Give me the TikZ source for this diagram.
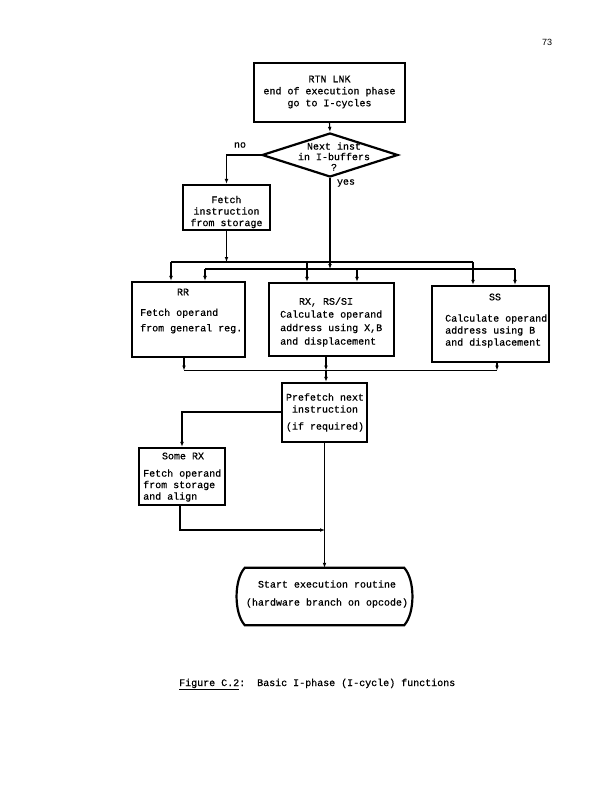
\documentclass[tikz,border=0pt]{standalone}
\usepackage{fontspec}
\setmonofont{Liberation Mono}[FakeBold=0.6]
\newfontfamily\pagenumfont{Liberation Sans}
\usetikzlibrary{arrows.meta,shapes.geometric}
\newcommand\tx[1]{\ttfamily\fontsize{10bp}{#1bp}\selectfont}
\tikzset{
  boxed/.style={draw, line width=2.2bp, inner sep=0pt},
  conn/.style={line width=1.1bp},
  arr/.style={line width=1.1bp, -{Latex[length=5bp,width=3.8bp]}},
  txt/.style={inner sep=0pt, align=center, font=\tx{12}},
}
\begin{document}
\begin{tikzpicture}[x=1bp,y=-1bp]
\useasboundingbox (0,0) rectangle (612,791);

% page number
\node[inner sep=0pt, font=\pagenumfont\fontsize{9bp}{10bp}\selectfont] (pnum) at (547,42) {73};

% top box
\node[boxed, minimum width=151bp, minimum height=59bp] (top) at (329.5,92.5) {};
\node[txt, font=\tx{12}] (toptxt) at (329.5,92) {RTN LNK\\end of execution phase\\go to I-cycles};

% decision
\node[boxed, shape=diamond, minimum width=136bp, minimum height=44bp] (dia) at (330,155) {};
\node[txt, font=\tx{10.5}] (diatxt) at (334,156.5) {Next inst\\in I-buffers\\?};
\node[txt] (no) at (240,145) {no};
\node[txt] (yes) at (346,183) {yes};

% fetch instruction
\node[boxed, minimum width=87bp, minimum height=45bp] (fetch) at (226.5,207.5) {};
\node[txt, font=\tx{11.5}] (fetchtxt) at (226.5,212) {Fetch\\instruction\\from storage};

% three operand boxes
\node[boxed, minimum width=113bp, minimum height=75bp] (rr) at (188.5,319.5) {};
\node[txt] (rrt) at (183,292) {RR};
\node[txt, align=left, anchor=west, font=\tx{15.5}] (rrb) at (140,321) {Fetch operand\\from general reg.};

\node[boxed, minimum width=125bp, minimum height=73bp] (rx) at (331.5,319.5) {};
\node[txt] (rxt) at (326,302) {RX, RS/SI};
\node[txt, align=left, anchor=west, font=\tx{13.5}] (rxb) at (280,328.5) {Calculate operand\\address using X,B\\and displacement};

\node[boxed, minimum width=117bp, minimum height=76bp] (ss) at (490.5,324) {};
\node[txt] (sst) at (495,297) {SS};
\node[txt, align=left, anchor=west, font=\tx{12}] (ssb) at (445,331) {Calculate operand\\address using B\\and displacement};

% prefetch
\node[boxed, minimum width=85bp, minimum height=59bp] (pf) at (324.5,412.5) {};
\node[txt, font=\tx{12}] (pf1) at (325,403) {Prefetch next\\instruction};
\node[txt] (pf2) at (325,427) {(if required)};

% some RX
\node[boxed, minimum width=86bp, minimum height=57bp] (srx) at (182,476.5) {};
\node[txt] (srxt) at (183,456) {Some RX};
\node[txt, align=left, anchor=west, font=\tx{11.5}] (srxb) at (143,485.5) {Fetch operand\\from storage\\and align};

% start execution (terminal)
\node[inner sep=0pt, minimum width=175bp, minimum height=57bp] (st) at (324.5,596.5) {};
\draw[line width=2.2bp] ([xshift=8bp]st.north west) -- ([xshift=-8bp]st.north east)
  .. controls ([xshift=3bp,yshift=-12bp]st.north east) and ([xshift=3bp,yshift=12bp]st.south east) .. ([xshift=-8bp]st.south east)
  -- ([xshift=8bp]st.south west)
  .. controls ([xshift=-3bp,yshift=12bp]st.south west) and ([xshift=-3bp,yshift=-12bp]st.north west) .. cycle;
\node[txt, font=\tx{18}] (sttxt) at (327,594) {Start execution routine\\(hardware branch on opcode)};

% caption
\node[inner sep=0pt, anchor=base west, font=\tx{12}] (cap) at (179,686) {\underline{Figure C.2}:~~Basic I-phase (I-cycle) functions};

% ---- connectors ----
\draw[arr] (top.south) -- (dia.north);
\draw[arr] (dia.west) -| (fetch.north);

% bus 1 (from fetch)
\coordinate (b1L) at (171,262);
\coordinate (b1M) at (307,262);
\coordinate (b1F) at (226.5,262);
\coordinate (b1R) at (473,262);
\draw[arr] (fetch.south) -- (b1F);
\draw[conn] (b1L) -- (b1R);
\draw[arr] (b1L) -- (b1L |- rr.north);
\draw[arr] (b1M) -- (b1M |- rx.north);
\draw[arr] (b1R) -- (b1R |- ss.north);

% bus 2 (from yes)
\coordinate (b2L) at (205,269);
\coordinate (b2Y) at (330,269);
\coordinate (b2M) at (357,269);
\coordinate (b2R) at (515,269);
\draw[arr] (dia.south) -- (b2Y);
\draw[conn] (b2L) -- (b2R);
\draw[arr] (b2L) -- (b2L |- rr.north);
\draw[arr] (b2M) -- (b2M |- rx.north);
\draw[arr] (b2R) -- (b2R |- ss.north);

% bus 3 (merge below)
\coordinate (b3L) at (184,370.5);
\coordinate (b3M) at (326,370.5);
\coordinate (b3R) at (497,370.5);
\draw[arr] (b3L |- rr.south) -- (b3L);
\draw[arr] (b3M |- rx.south) -- (b3M);
\draw[arr] (b3R |- ss.south) -- (b3R);
\draw[conn] (b3L) -- (b3R);
\draw[arr] (b3M) -- (b3M |- pf.north);

% prefetch branches
\draw[arr] (pf.west |- 0,412) -| (srx.north);
\coordinate (mrg) at (325,530);
\coordinate (srxc) at (180,530);
\draw[arr] (180,0 |- srx.south) -- (srxc) -- (mrg);
\draw[arr] (pf.south) -- (st.north);
\end{tikzpicture}
\end{document}
